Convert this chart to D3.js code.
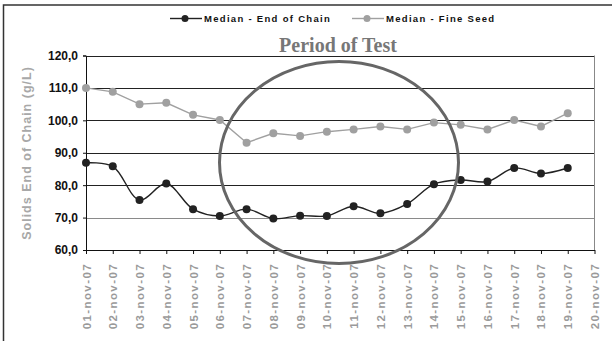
<!DOCTYPE html>
<html>
<head>
<meta charset="utf-8">
<script src="https://cdn.jsdelivr.net/npm/d3@7"></script>
<style>
  html, body { margin: 0; padding: 0; background: #fff; }
  svg { display: block; font-family: Arial, "Liberation Sans", sans-serif; }
</style>
</head>
<body>
<svg id="chart" width="612" height="341"></svg>
<script>
// Daily dates (20 ticks, 19 measured days)
const dates = ["01-nov-07","02-nov-07","03-nov-07","04-nov-07","05-nov-07","06-nov-07","07-nov-07",
  "08-nov-07","09-nov-07","10-nov-07","11-nov-07","12-nov-07","13-nov-07","14-nov-07","15-nov-07",
  "16-nov-07","17-nov-07","18-nov-07","19-nov-07","20-nov-07"];

// Median solids at end of chain (g/L)
const endOfChain = [86.9, 85.8, 75.4, 80.5, 72.6, 70.5, 72.6, 69.7, 70.6, 70.5,
  73.5, 71.3, 74.2, 80.3, 81.6, 81.1, 85.3, 83.6, 85.3];

// Median solids of fine seed (g/L)
const fineSeed = [110.0, 108.8, 105.0, 105.4, 101.7, 100.1, 93.1, 96.0, 95.2, 96.5,
  97.2, 98.1, 97.2, 99.3, 98.6, 97.2, 100.1, 98.1, 102.2];

const yTicks = [60, 70, 80, 90, 100, 110, 120];

const seriesNames = ["Median - End of Chain", "Median - Fine Seed"];
const seriesColors = ["#222222", "#a0a0a0"];

(function draw() {
  const svg = d3.select("#chart");

  // outer frame
  svg.append("rect").attr("x", 3.5).attr("y", 5).attr("width", 620).attr("height", 345)
    .attr("fill", "none").attr("stroke", "#333").attr("stroke-width", 1.5);

  const plotLeft = 86, plotRight = 594.5, plotTop = 55.5, plotBottom = 250;

  const x = d3.scalePoint().domain(dates).range([plotLeft, plotRight]);
  const y = d3.scaleLinear().domain([60, 120]).range([plotBottom, plotTop]);

  // horizontal gridlines
  svg.append("g").selectAll("line").data(yTicks.filter(v => v > 60)).join("line")
    .attr("x1", plotLeft).attr("x2", plotRight)
    .attr("y1", d => Math.round(y(d)) + 0.5).attr("y2", d => Math.round(y(d)) + 0.5)
    .attr("stroke", d => d === 70 ? "#8a8a8a" : "#222").attr("stroke-width", 1);

  // right edge of plot
  svg.append("line").attr("x1", plotRight).attr("x2", plotRight).attr("y1", plotTop).attr("y2", plotBottom)
    .attr("stroke", "#888").attr("stroke-width", 1);

  // y axis
  const yAxis = svg.append("g").attr("transform", `translate(${plotLeft},0)`)
    .call(d3.axisLeft(y).tickValues(yTicks).tickSize(3).tickPadding(5)
      .tickFormat(d => d3.format(".1f")(d).replace(".", ",")));
  yAxis.select(".domain").attr("stroke", "#111");
  yAxis.selectAll(".tick line").attr("stroke", "#111");
  yAxis.selectAll("text").attr("font-size", 12).attr("font-weight", "bold").attr("fill", "#111")
    .attr("font-family", "Arial, 'Liberation Sans', sans-serif");

  // x axis
  const xAxis = svg.append("g").attr("transform", `translate(0,${plotBottom})`)
    .call(d3.axisBottom(x).tickSize(4).tickSizeOuter(0));
  xAxis.select(".domain").attr("stroke", "#111");
  xAxis.selectAll(".tick line").attr("stroke", "#111");
  xAxis.selectAll("text")
    .attr("font-size", 11.5).attr("font-weight", "bold").attr("fill", "#9a9a9a")
    .attr("letter-spacing", "1.4px")
    .attr("font-family", "Arial, 'Liberation Sans', sans-serif")
    .attr("text-anchor", "end").attr("dy", null).attr("y", null)
    .attr("transform", "translate(4,13) rotate(-90)");

  // y axis title
  svg.append("text")
    .attr("transform", "translate(31,153) rotate(-90)")
    .attr("text-anchor", "middle")
    .attr("font-size", 12.5).attr("font-weight", "bold").attr("fill", "#a8a8a8")
    .attr("letter-spacing", "1px")
    .text("Solids End of Chain (g/L)");

  // series
  const idx = d3.range(endOfChain.length);
  const lineEnd = d3.line().x(i => x(dates[i])).y(i => y(endOfChain[i])).curve(d3.curveCatmullRom.alpha(0.5));
  const lineSeed = d3.line().x(i => x(dates[i])).y(i => y(fineSeed[i]));

  svg.append("path").attr("d", lineSeed(idx)).attr("fill", "none")
    .attr("stroke", seriesColors[1]).attr("stroke-width", 1.4);
  svg.append("g").selectAll("circle").data(idx).join("circle")
    .attr("cx", i => x(dates[i])).attr("cy", i => y(fineSeed[i])).attr("r", 4)
    .attr("fill", seriesColors[1]);

  svg.append("path").attr("d", lineEnd(idx)).attr("fill", "none")
    .attr("stroke", seriesColors[0]).attr("stroke-width", 1.4);
  svg.append("g").selectAll("circle").data(idx).join("circle")
    .attr("cx", i => x(dates[i])).attr("cy", i => y(endOfChain[i])).attr("r", 4)
    .attr("fill", seriesColors[0]);

  // test period highlight
  svg.append("ellipse").attr("cx", 339).attr("cy", 162.5).attr("rx", 119.5).attr("ry", 101)
    .attr("fill", "none").attr("stroke", "#666").attr("stroke-width", 3);

  // title
  svg.append("text").attr("x", 338).attr("y", 52).attr("text-anchor", "middle")
    .attr("font-family", "'Liberation Serif', 'Times New Roman', serif")
    .attr("font-size", 20).attr("font-weight", "bold").attr("fill", "#777")
    .text("Period of Test");

  // legend
  const legendItems = [
    { name: seriesNames[0], color: seriesColors[0], x0: 170 },
    { name: seriesNames[1], color: seriesColors[1], x0: 352 }
  ];
  const lg = svg.append("g").attr("transform", "translate(0,18.5)");
  legendItems.forEach(it => {
    lg.append("line").attr("x1", it.x0).attr("x2", it.x0 + 32).attr("y1", 0).attr("y2", 0)
      .attr("stroke", it.color).attr("stroke-width", 1.4);
    lg.append("circle").attr("cx", it.x0 + 15).attr("cy", 0).attr("r", 3.5).attr("fill", it.color);
    lg.append("text").attr("x", it.x0 + 34).attr("y", 3.5)
      .attr("font-size", 9.5).attr("font-weight", "bold").attr("fill", "#111")
      .attr("letter-spacing", "1.3px")
      .text(it.name);
  });
})();
</script>
</body>
</html>
